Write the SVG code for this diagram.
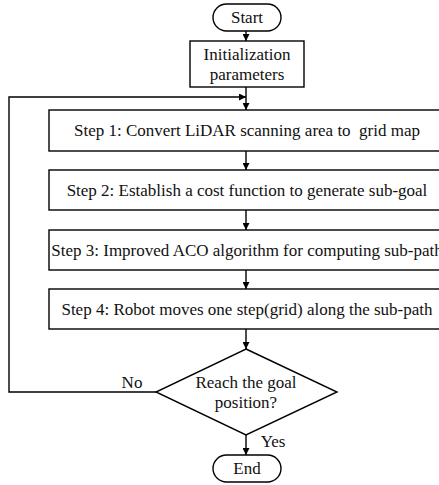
<svg xmlns="http://www.w3.org/2000/svg" width="439" height="485" viewBox="0 0 439 485">
<defs>
<marker id="ah" viewBox="0 0 10 10" refX="10" refY="5" markerWidth="7" markerHeight="7" markerUnits="userSpaceOnUse" orient="auto">
<path d="M0,0 L10,5 L0,10 z" fill="#000"/>
</marker>
</defs>
<style>
.s{fill:#fff;stroke:#000;stroke-width:1.4}
.c{fill:none;stroke:#000;stroke-width:1.4}
text{font-family:'Liberation Serif','Times New Roman',serif;font-size:17px;fill:#111;text-anchor:middle;white-space:pre}
</style>
<rect width="439" height="485" fill="#fff"/>
<g id="connectors">
<line class="c" x1="246" y1="31" x2="246" y2="41" marker-end="url(#ah)"/>
<line class="c" x1="246" y1="87" x2="246" y2="110" marker-end="url(#ah)"/>
<line class="c" x1="246" y1="151" x2="246" y2="170" marker-end="url(#ah)"/>
<line class="c" x1="246" y1="210" x2="246" y2="230" marker-end="url(#ah)"/>
<line class="c" x1="246" y1="270" x2="246" y2="289" marker-end="url(#ah)"/>
<line class="c" x1="246" y1="329" x2="246" y2="349" marker-end="url(#ah)"/>
<line class="c" x1="246" y1="435" x2="246" y2="455" marker-end="url(#ah)"/>
<polyline class="c" points="156,392 9,392 9,97 246,97" marker-end="url(#ah)"/>
<text x="132" y="388">No</text>
<text x="273" y="447">Yes</text>
</g>
<g id="start"><rect class="s" x="213" y="4" width="68" height="27" rx="13.5"/><text x="247" y="23">Start</text></g>
<g id="init"><rect class="s" x="190" y="41" width="114" height="46"/><text x="247" y="60">Initialization</text><text x="247" y="80">parameters</text></g>
<g id="step1"><rect class="s" x="49" y="110" width="394" height="41"/><text x="247" y="136" xml:space="preserve">Step 1: Convert LiDAR scanning area to  grid map</text></g>
<g id="step2"><rect class="s" x="49" y="170" width="394" height="40"/><text x="247" y="196">Step 2: Establish a cost function to generate sub-goal</text></g>
<g id="step3"><rect class="s" x="49" y="230" width="394" height="40"/><text x="247" y="256">Step 3: Improved ACO algorithm for computing sub-path</text></g>
<g id="step4"><rect class="s" x="49" y="289" width="394" height="40"/><text x="247" y="315">Step 4: Robot moves one step(grid) along the sub-path</text></g>
<g id="decision"><polygon class="s" points="246,349 337,392 246,435 156,392"/><text x="246" y="388">Reach the goal</text><text x="246" y="408">position?</text></g>
<g id="end"><rect class="s" x="213" y="455" width="68" height="27" rx="13.5"/><text x="247" y="474">End</text></g>
</svg>
